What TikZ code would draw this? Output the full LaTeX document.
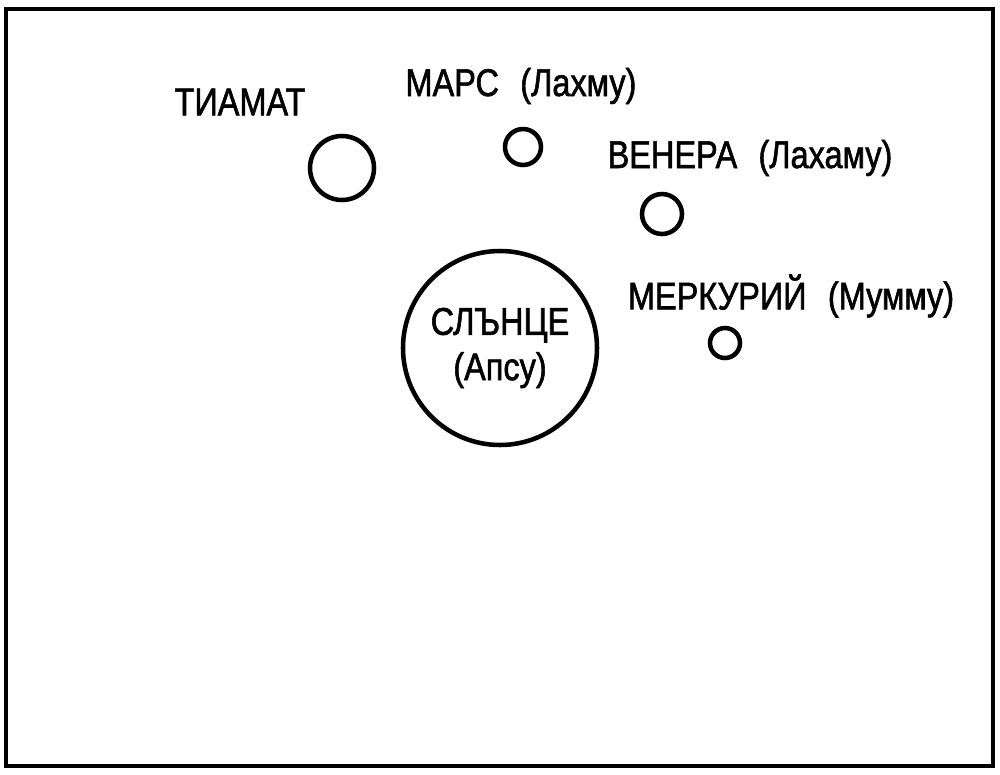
\documentclass[tikz,border=0pt]{standalone}
\usepackage{fontspec}
\setmainfont[FakeStretch=0.84,FakeBold=1.5]{Liberation Sans}
\begin{document}
\begin{tikzpicture}[x=0.75pt,y=-0.75pt,
  planet/.style={circle,draw,line width=3.4pt,inner sep=0pt},
  lbl/.style={font=\fontsize{29}{33}\selectfont,inner sep=0pt}]
\useasboundingbox (0,0) rectangle (1000,775);
\draw[line width=3.6pt] (6,9) rectangle (993,766);
\node[planet,minimum size=194*0.75pt,align=center,font=\fontsize{29}{34}\selectfont] (sun) at (500,348) {СЛЪНЦЕ\\(Апсу)};
\node[planet,minimum size=64*0.75pt] (tiamat) at (342,168) {};
\node[planet,minimum size=36*0.75pt] (mars) at (523,147) {};
\node[planet,minimum size=40*0.75pt] (venus) at (662,214) {};
\node[planet,minimum size=30*0.75pt] (mercury) at (725,343) {};
\node[lbl] (tl) at (240,102) {ТИАМАТ};
\node[lbl] (ml) at (521,86) {МАРС\hspace{0.55em}(Лахму)};
\node[lbl] (vl) at (750,158) {ВЕНЕРА\hspace{0.55em}(Лахаму)};
\node[lbl] (mel) at (791,296) {МЕРКУРИЙ\hspace{0.55em}(Мумму)};
\end{tikzpicture}
\end{document}
